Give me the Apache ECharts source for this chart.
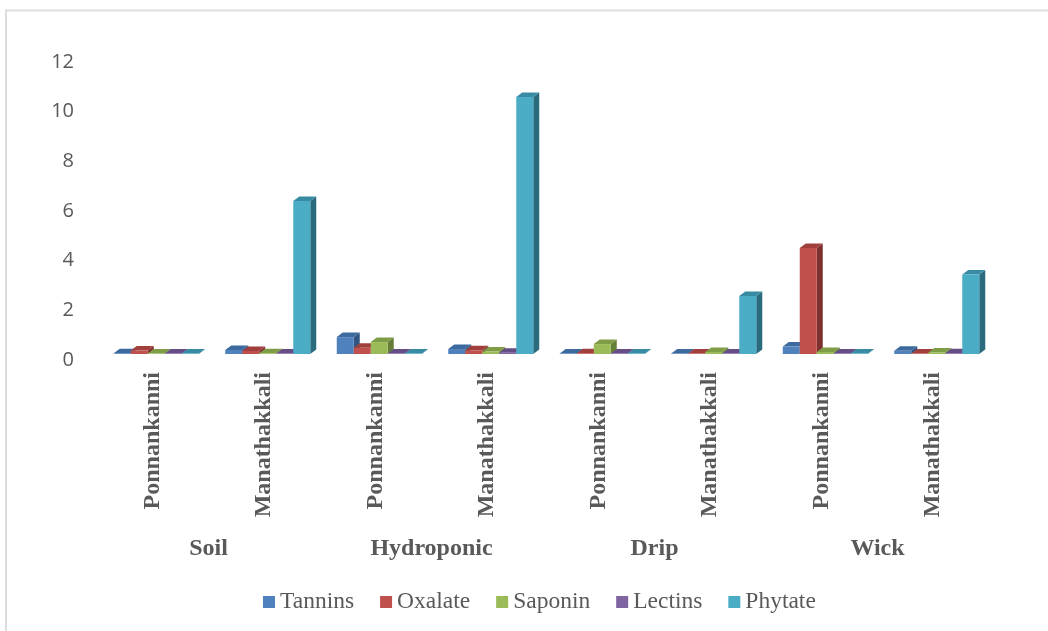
<!DOCTYPE html>
<html>
<head>
<meta charset="utf-8">
<style>
  html, body { margin: 0; padding: 0; background: #fff; }
  #chart { width: 1048px; height: 631px; }
</style>
<script src="https://cdn.jsdelivr.net/npm/echarts@6/dist/echarts.min.js"></script>
</head>
<body>
<div id="chart"></div>
<script>
const varieties = ['Ponnankanni', 'Manathakkali', 'Ponnankanni', 'Manathakkali',
                   'Ponnankanni', 'Manathakkali', 'Ponnankanni', 'Manathakkali'];
const systems = ['Soil', 'Hydroponic', 'Drip', 'Wick'];
const yTicks = { min: 0, max: 12, interval: 2 };

const tannins = [0.03, 0.16, 0.68, 0.2, 0.02, 0.02, 0.3, 0.13];
const oxalate = [0.14, 0.12, 0.25, 0.15, 0.03, 0.02, 4.27, 0.02];
const saponin = [0.02, 0.03, 0.48, 0.1, 0.4, 0.08, 0.08, 0.06];
const lectins = [0.02, 0.02, 0.02, 0.05, 0.02, 0.02, 0.02, 0.03];
const phytate = [0.02, 6.16, 0.02, 10.35, 0.02, 2.34, 0.02, 3.2];

const seriesNames = ['Tannins', 'Oxalate', 'Saponin', 'Lectins', 'Phytate'];
const seriesValues = [tannins, oxalate, saponin, lectins, phytate];
const faceColors = ['#4F81BD', '#C0504D', '#9BBB59', '#8064A2', '#4BACC6'];
const topColors = ['#3C6A9E', '#A03F3C', '#7F9C47', '#654E85', '#378BA3'];
const sideColors = ['#2F5680', '#7E302E', '#667F38', '#503E6C', '#2B6B7E'];

const BAR_WIDTH = 17;
const DEPTH_X = 6;
const DEPTH_Y = 4.5;
const SHIFT_X = 3.5;

// Each bar is a cuboid: a front face, plus a top and right side receding up and to the right.
function cuboid(seriesIdx) {
  return function (params, api) {
    const base = api.coord([api.value(0), 0]);
    const top = api.coord([api.value(0), api.value(1)]);
    const x = base[0] + SHIFT_X + (seriesIdx - seriesNames.length / 2) * BAR_WIDTH;
    const x2 = x + BAR_WIDTH;
    const y0 = base[1];
    const y1 = top[1];
    return {
      type: 'group',
      children: [
        { type: 'polygon', shape: { points: [[x2, y1], [x2 + DEPTH_X, y1 - DEPTH_Y], [x2 + DEPTH_X, y0 - DEPTH_Y], [x2, y0]] },
          style: { fill: sideColors[seriesIdx] } },
        { type: 'polygon', shape: { points: [[x, y1], [x + DEPTH_X, y1 - DEPTH_Y], [x2 + DEPTH_X, y1 - DEPTH_Y], [x2, y1]] },
          style: { fill: topColors[seriesIdx] } },
        { type: 'rect', shape: { x: x, y: y1, width: BAR_WIDTH, height: y0 - y1 },
          style: { fill: faceColors[seriesIdx] } }
      ]
    };
  };
}

const chart = echarts.init(document.getElementById('chart'), null, { renderer: 'canvas' });
chart.setOption({
  animation: false,
  backgroundColor: '#fff',
  graphic: [{
    type: 'polyline',
    silent: true,
    shape: { points: [[6, 631], [6, 10.5], [1048, 10.5]] },
    style: { stroke: '#DDDDDD', lineWidth: 2, fill: null }
  }],
  grid: { left: 97, right: 59, top: 56, bottom: 277 },
  legend: {
    left: 258,
    top: 585,
    icon: 'rect',
    itemWidth: 12,
    itemHeight: 12,
    itemGap: 26,
    data: seriesNames,
    textStyle: { fontFamily: 'Liberation Serif', fontSize: 23.5, color: '#595959' }
  },
  xAxis: [
    {
      type: 'category',
      data: varieties,
      position: 'bottom',
      axisLine: { show: false },
      axisTick: { show: false },
      splitLine: { show: false },
      axisLabel: {
        rotate: 90,
        interval: 0,
        margin: 18,
        fontFamily: 'Liberation Serif',
        fontWeight: 'bold',
        fontSize: 24,
        color: '#595959'
      }
    },
    {
      type: 'category',
      data: systems,
      position: 'bottom',
      offset: 175,
      axisLine: { show: false },
      axisTick: { show: false },
      splitLine: { show: false },
      axisLabel: {
        interval: 0,
        fontFamily: 'Liberation Serif',
        fontWeight: 'bold',
        fontSize: 24,
        color: '#595959'
      }
    }
  ],
  yAxis: {
    type: 'value',
    min: yTicks.min,
    max: yTicks.max,
    interval: yTicks.interval,
    axisLine: { show: false },
    axisTick: { show: false },
    splitLine: { show: false },
    axisLabel: {
      margin: 23,
      fontFamily: 'Open Sans',
      fontSize: 20,
      color: '#595959',
      verticalAlign: 'top',
      lineHeight: 12
    }
  },
  series: seriesNames.map((name, i) => ({
    name: name,
    type: 'custom',
    xAxisIndex: 0,
    yAxisIndex: 0,
    itemStyle: { color: faceColors[i] },
    encode: { x: 0, y: 1 },
    renderItem: cuboid(i),
    data: seriesValues[i].map((v, c) => [c, v])
  }))
});
</script>
</body>
</html>
